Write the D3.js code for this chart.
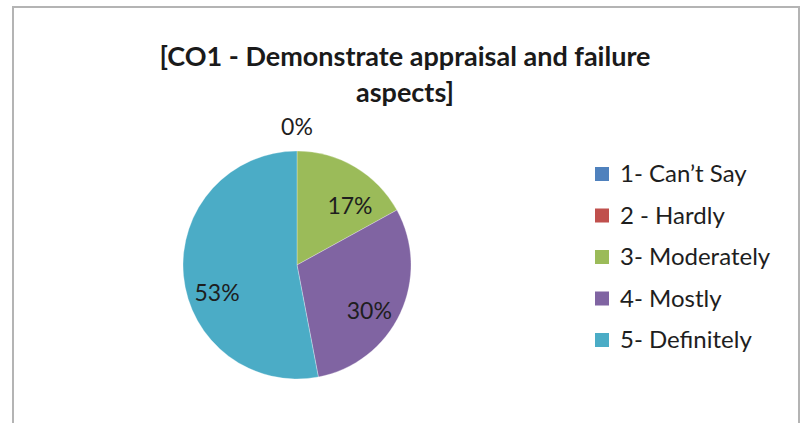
<!DOCTYPE html>
<html>
<head>
<meta charset="utf-8">
<script src="https://cdn.jsdelivr.net/npm/d3@7"></script>
<style>
  html, body { margin: 0; padding: 0; background: #fff; }
  svg { display: block; }
</style>
</head>
<body>
<svg id="chart" width="804" height="423"></svg>
<script>
// ---- data ----
const categories = ["1- Can\u2019t Say", "2 - Hardly", "3- Moderately", "4- Mostly", "5- Definitely"];
const values = [0, 0, 17, 30, 53];
const colors = ["#4f81bd", "#c0504d", "#9bbb59", "#8064a2", "#4bacc6"];
const titleLines = ["[CO1 - Demonstrate appraisal and failure", "aspects]"];

// ---- layout ----
const W = 804, H = 423;
const cx = 297, cy = 265, R = 114;
const svg = d3.select("#chart");

svg.append("rect").attr("width", W).attr("height", H).attr("fill", "#fff");
svg.append("rect")
  .attr("x", 13).attr("y", 7).attr("width", 786).attr("height", H + 20)
  .attr("fill", "none").attr("stroke", "#b4b4b4").attr("stroke-width", 2);

// title
const title = svg.append("text")
  .attr("text-anchor", "middle")
  .attr("font-family", "Lato, 'Open Sans', sans-serif")
  .attr("font-weight", "bold").attr("font-size", 27).attr("fill", "#1a1a1a");
titleLines.forEach((t, i) => {
  title.append("tspan").attr("x", 405).attr("y", 66 + i * 36).text(t);
});

// pie
const data = categories.map((c, i) => ({ cat: c, value: values[i], color: colors[i] }));
const pie = d3.pie().value(d => d.value).sort(null);
const arcs = pie(data);
const arc = d3.arc().innerRadius(0).outerRadius(R);
const g = svg.append("g").attr("transform", `translate(${cx},${cy})`);

g.selectAll("path").data(arcs).enter().append("path")
  .attr("d", arc).attr("fill", d => d.data.color)
  .attr("stroke", "#fff").attr("stroke-width", 0.3);

// labels
const total = d3.sum(values);
const labelArc = d3.arc().innerRadius(R * 0.74).outerRadius(R * 0.74);
const outerArc = d3.arc().innerRadius(R + 24).outerRadius(R + 24);
const nudge = { 2: [10, 14], 3: [-4, 10], 4: [4, 20] };
const seen = new Set();
arcs.forEach((d, i) => {
  const pct = Math.round(d.data.value / total * 100) + "%";
  let p;
  if (d.data.value === 0) {
    p = outerArc.centroid(d);
    const key = p.map(Math.round).join(",");
    if (seen.has(key)) return;
    seen.add(key);
  } else {
    p = labelArc.centroid(d);
    const n = nudge[i] || [0, 0];
    p = [p[0] + n[0], p[1] + n[1]];
  }
  g.append("text")
    .attr("x", p[0]).attr("y", p[1])
    .attr("text-anchor", "middle").attr("dy", "0.35em")
    .attr("font-family", "Lato, 'Open Sans', sans-serif")
    .attr("font-size", 23).attr("fill", "#1e1e1e")
    .text(pct);
});

// legend
const lg = svg.append("g").attr("transform", "translate(595,167)");
const rows = lg.selectAll("g").data(data).enter().append("g")
  .attr("transform", (d, i) => `translate(0,${i * 41.5})`);
rows.append("rect").attr("width", 14).attr("height", 14).attr("fill", d => d.color);
rows.append("text")
  .attr("x", 25).attr("y", 7).attr("dy", "0.35em")
  .attr("font-family", "Lato, 'Open Sans', sans-serif")
  .attr("font-size", 24).attr("fill", "#1e1e1e")
  .text(d => d.cat);
</script>
</body>
</html>
